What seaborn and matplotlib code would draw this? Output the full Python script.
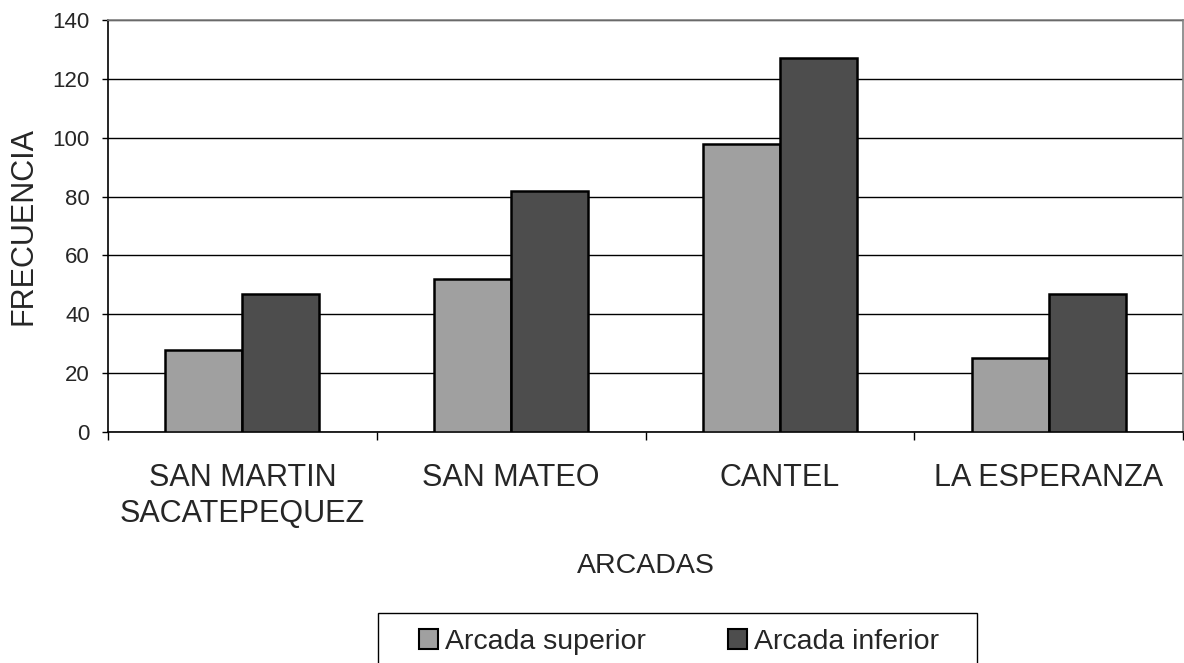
import matplotlib
matplotlib.use("Agg")
import matplotlib.pyplot as plt
import seaborn as sns
import pandas as pd
from matplotlib.ticker import FixedLocator
from matplotlib.patches import Rectangle

categorias = ["SAN MARTIN\nSACATEPEQUEZ", "SAN MATEO", "CANTEL", "LA ESPERANZA"]
arcada_superior = [28, 52, 98, 25]
arcada_inferior = [47, 82, 127, 47]
series = ["Arcada superior", "Arcada inferior"]
colores = ["#a0a0a0", "#4d4d4d"]
y_ticks = [0, 20, 40, 60, 80, 100, 120, 140]

df = pd.DataFrame({
    "arcada": categorias * 2,
    "frecuencia": arcada_superior + arcada_inferior,
    "serie": [series[0]] * len(categorias) + [series[1]] * len(categorias),
})

sns.set_style("white")
plt.rcParams["font.family"] = ["Liberation Sans", "DejaVu Sans"]

W, H = 1184, 663
fig = plt.figure(figsize=(W / 100, H / 100), dpi=100)
ax = fig.add_axes([108 / W, 1 - 432 / H, (1183 - 108) / W, (432 - 20) / H])

sns.barplot(data=df, x="arcada", y="frecuencia", hue="serie", palette=colores,
            edgecolor="black", linewidth=1.8, width=0.573, gap=0, ax=ax,
            saturation=1, zorder=3)

ax.set_ylim(0, 140)
ax.set_xlim(-0.5, 3.5)
ax.set_yticks(y_ticks)
ax.yaxis.grid(True, color="black", linewidth=1, zorder=0)
ax.set_axisbelow(True)

ax.tick_params(axis="y", labelsize=16, length=4.5, width=1, color="black",
               direction="out", left=True, pad=8.5)
ax.tick_params(axis="x", which="major", length=0, labelsize=22, pad=22)
ax.xaxis.set_minor_locator(FixedLocator([-0.5, 0.5, 1.5, 2.5, 3.5]))
ax.tick_params(axis="x", which="minor", length=6, width=1, color="black",
               direction="out", bottom=True)
for lbl in ax.get_xticklabels():
    lbl.set_linespacing(1.3)

for side in ["left", "bottom"]:
    ax.spines[side].set_color("black")
    ax.spines[side].set_linewidth(1.2)
for side in ["top", "right"]:
    ax.spines[side].set_visible(True)
    ax.spines[side].set_color("#808080")
    ax.spines[side].set_linewidth(1.2)

ax.set_ylabel("FRECUENCIA", fontsize=22, labelpad=10)
ax.set_xlabel("ARCADAS", fontsize=20.5, labelpad=17)

# legend: frame drawn as a plain box, entries placed inside it
handles, labels = ax.get_legend_handles_labels()
ax.legend_.remove()
for h in handles:
    h.set_linewidth(1.5)
fig.patches.append(Rectangle((378 / W, -0.01), (977 - 378) / W, 1 - 613 / H + 0.01,
                             transform=fig.transFigure, fill=False,
                             edgecolor="black", linewidth=1))
fig.legend(handles, labels, loc="center left", bbox_to_anchor=(419 / W, 1 - 642 / H),
           ncol=2, fontsize=20.5, frameon=False, handlelength=0.66,
           handleheight=0.66, handletextpad=0.25, columnspacing=2.9,
           borderpad=0, borderaxespad=0)

fig.savefig("out.png", dpi=100)
